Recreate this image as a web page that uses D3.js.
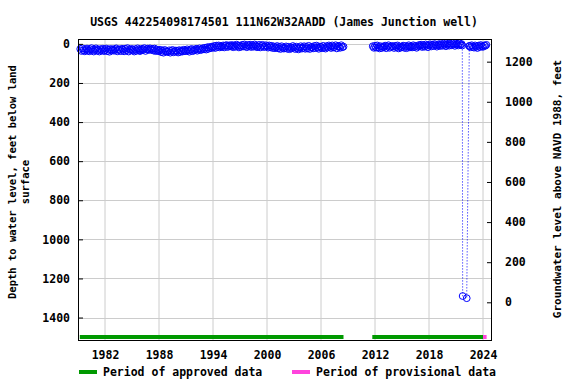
<!DOCTYPE html>
<html><head><meta charset="utf-8">
<script src="https://cdn.jsdelivr.net/npm/d3@7"></script>
<style>body{margin:0;background:#fff}svg{display:block}text{font-family:"DejaVu Sans Mono",monospace;font-weight:bold;fill:#000}</style>
</head><body><svg id="c" width="576" height="384"></svg>
<script>
const title = "USGS 442254098174501 111N62W32AADD (James Junction well)";
const xTicks = [1982, 1988, 1994, 2000, 2006, 2012, 2018, 2024];
const leftTicks = [0, 200, 400, 600, 800, 1000, 1200, 1400];
const rightTicks = [0, 200, 400, 600, 800, 1000, 1200];
// segment 1: regular samples from 1979.25, every 0.125 yr (depth, ft below land surface)
const seg1Start = 1979.25, step = 0.125;
const seg1Depth = [
 26,36,23,33,38,29,
 24,34,38,28,22,32,39,30, 23,35,30,39,27,33,25,37, 32,24,37,29,40,26,34,28,
 35,27,23,38,31,29,37,25, 30,38,25,33,22,39,28,32, 26,32,39,27,35,23,30,37,
 33,25,30,22,36,28,24,31, 23,30,26,34,24,37,29,35, 37,30,42,34,45,31,38,40,
 41,33,45,36,31,43,38,34, 36,44,32,41,34,39,30,37, 36,28,34,40,30,26,37,32,
 31,25,35,29,23,32,27,22, 28,20,29,17,25,16,22,14, 19,11,21,9,16,8,18,12,
 15,8,18,9,6,16,12,7, 13,6,17,8,14,4,10,18, 9,15,5,13,3,11,17,6,
 12,4,16,7,14,3,9,17, 13,5,18,10,5,16,14,7, 12,19,8,17,10,21,13,22,
 18,11,23,15,26,12,20,24, 21,13,25,15,27,17,23,11, 18,26,14,22,28,19,12,24,
 20,12,25,15,23,10,26,17, 16,23,11,21,9,19,25,14, 15,22,10,19,24,12,18,8,
 14,21,8,18,16,7,23,11, 13,20,7,17,14
];
// segment 2a: regular samples from 2011.75
const seg2Start = 2011.75;
const seg2Depth = [
 12,20,
 10,19,8,17,23,12,21,14, 17,9,22,13,7,20,15,11, 13,21,10,17,8,23,14,19,
 15,9,20,11,22,13,7,18, 12,18,7,16,10,20,13,6, 11,4,16,7,14,3,9,17,
 8,2,13,4,11,1,7,14, 6,1,11,2,9,-1,5,12, 4,-1,9,1,7,-2,3,10,
 3,-1,8,-3,5,1
];
// 2021-2022 measurements
const spikeYears = [2021.70, 2021.74, 2022.19, 2022.48];
const spikeDepth = [8, 1290, 1301, 12];
// segment 2b: regular samples from 2022.5
const seg3Start = 2022.5;
const seg3Depth = [10,17,7,15, 19,8,14,21,9,16,6,13, 15,8,10,5];
const approved = [[1979.2, 2008.5], [2011.7, 2024.0]];
const provisional = [[2024.0, 2024.4]];

const svg = d3.select("#c");
const L = 78, R = 492, T = 39, B = 341;
const x = d3.scaleLinear().domain([1979.0, 2025.0]).range([L, R]);
const y = d3.scaleLinear().domain([-25, 1520]).range([T, B]);
const yR = d3.scaleLinear().domain([1313, -193]).range([T, B]);

const s1 = seg1Depth.map((d, i) => [seg1Start + i * step, d]);
const s2 = seg2Depth.map((d, i) => [seg2Start + i * step, d])
  .concat(spikeYears.map((t, i) => [t, spikeDepth[i]]))
  .concat(seg3Depth.map((d, i) => [seg3Start + i * step, d]));

// grid
const g = svg.append("g");
g.selectAll(".gx").data(xTicks).join("line").attr("x1", d => x(d)).attr("x2", d => x(d))
  .attr("y1", T).attr("y2", B).attr("stroke", "#cccccc").attr("stroke-width", 1);
g.selectAll(".gy").data(leftTicks).join("line").attr("y1", d => Math.round(y(d)) + 0.5).attr("y2", d => Math.round(y(d)) + 0.5)
  .attr("x1", L).attr("x2", R).attr("stroke", "#cccccc").attr("stroke-width", 1);

// lines
const line = d3.line().x(d => x(d[0])).y(d => y(d[1]));
[s1, s2].forEach(s => svg.append("path").attr("d", line(s)).attr("fill", "none")
  .attr("stroke", "#0000ff").attr("stroke-width", 1).attr("stroke-dasharray", "1,2"));
// points
svg.append("g").selectAll("circle").data(s1.concat(s2)).join("circle")
  .attr("cx", d => x(d[0])).attr("cy", d => y(d[1])).attr("r", 3.4)
  .attr("fill", "none").attr("stroke", "#0000ff").attr("stroke-width", 1);

// approval bars
const barY = 337;
svg.selectAll(".ap").data(approved).join("line").attr("x1", d => x(d[0])).attr("x2", d => x(d[1]))
  .attr("y1", barY).attr("y2", barY).attr("stroke", "#009900").attr("stroke-width", 4);
svg.selectAll(".pv").data(provisional).join("line").attr("x1", d => x(d[0])).attr("x2", d => x(d[1]))
  .attr("y1", barY).attr("y2", barY).attr("stroke", "#ff44dd").attr("stroke-width", 4);

// frame
svg.append("rect").attr("x", L + 0.5).attr("y", T + 0.5).attr("width", R - L - 1).attr("height", B - T - 1)
  .attr("fill", "none").attr("stroke", "#000").attr("stroke-width", 1);

// axes
const fs = "11.5px";
const la = svg.append("g").attr("transform", `translate(${L},0)`)
  .call(d3.axisLeft(y).tickValues(leftTicks).tickSize(-5).tickPadding(8).tickFormat(d3.format("d")));
const ra = svg.append("g").attr("transform", `translate(${R},0)`)
  .call(d3.axisRight(yR).tickValues(rightTicks).tickSize(-5).tickPadding(13).tickFormat(d3.format("d")));
const ba = svg.append("g").attr("transform", `translate(0,${B})`)
  .call(d3.axisBottom(x).tickValues(xTicks).tickSize(0).tickPadding(10).tickFormat(d3.format("d")));
[la, ra, ba].forEach(a => {
  a.select(".domain").remove();
  a.selectAll("text").style("font-size", fs).style("font-family", "DejaVu Sans Mono").style("font-weight", "bold");
  a.selectAll("line").attr("stroke", "#000");
});

// title
svg.append("text").attr("x", 284).attr("y", 26).attr("text-anchor", "middle").style("font-size", fs).text(title);
// axis labels
svg.append("text").attr("transform", "translate(16,182) rotate(-90)").attr("text-anchor", "middle")
  .style("font-size", "10.5px").text("Depth to water level, feet below land");
svg.append("text").attr("transform", "translate(29,182) rotate(-90)").attr("text-anchor", "middle")
  .style("font-size", "10.5px").text("surface");
svg.append("text").attr("transform", "translate(561,189) rotate(-90)").attr("text-anchor", "middle")
  .style("font-size", "11px").text("Groundwater level above NAVD 1988, feet");

// legend
svg.append("line").attr("x1", 79).attr("x2", 97).attr("y1", 372).attr("y2", 372).attr("stroke", "#009900").attr("stroke-width", 4);
svg.append("text").attr("x", 103).attr("y", 376).style("font-size", fs).text("Period of approved data");
svg.append("line").attr("x1", 292).attr("x2", 310).attr("y1", 372).attr("y2", 372).attr("stroke", "#ff44dd").attr("stroke-width", 4);
svg.append("text").attr("x", 316).attr("y", 376).style("font-size", fs).text("Period of provisional data");
</script></body></html>
